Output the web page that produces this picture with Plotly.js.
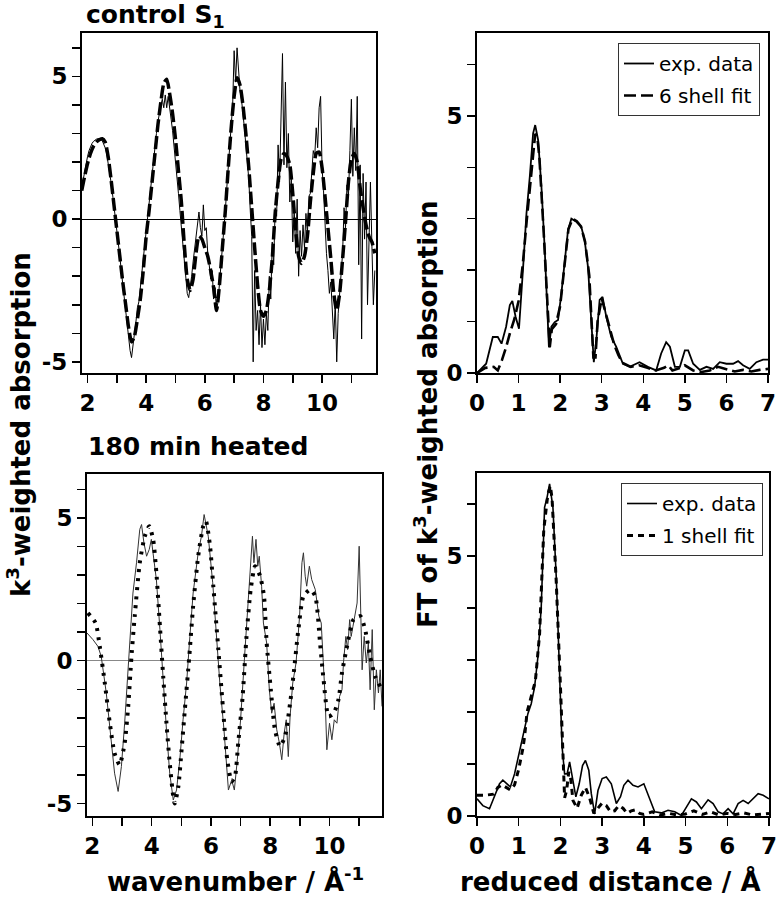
<!DOCTYPE html>
<html>
<head>
<meta charset="utf-8">
<script src="https://cdn.plot.ly/plotly-3.0.1.min.js"></script>
<style>html,body{margin:0;padding:0;background:#fff}#chart{width:780px;height:900px}</style>
</head>
<body>
<div id="chart"></div>
<script>
// ---------- top-left: control S1, k-space ----------
const kStartFine = 1.8, kStepFine = 0.05;   // exp data grid
const kStartFit = 1.8, kStepFit = 0.1;      // fit grid
const ctrlExp = [
  1.1,1.4,1.7,2.0,2.2,2.4,2.55,2.65,2.72,2.78,2.8,2.82,2.82,2.8,2.75,2.65,2.5,2.3,2.0,1.65,
  1.3,0.9,0.5,0.1,-0.35,-0.8,-1.3,-1.8,-2.3,-2.8,-3.3,-3.8,-4.2,-4.6,-4.85,-4.5,-4.0,-3.6,-3.1,-2.9,
  -2.5,-1.9,-1.4,-0.9,-0.3,0.1,0.6,1.1,1.6,2.1,2.6,3.0,3.4,3.8,4.0,4.2,3.9,4.35,3.9,4.3,
  3.8,3.5,3.1,2.6,2.1,1.5,0.9,0.3,-0.3,-0.9,-1.5,-2.1,-2.6,-2.75,-2.4,-2.0,-1.5,-1.0,-0.6,-0.2,
  0.25,-0.3,-0.6,0.5,-0.4,-0.3,-1.2,-1.6,-2.1,-1.8,-2.8,-2.4,-3.2,-2.9,-2.3,-1.6,-1.0,-0.3,0.3,1.1,
  1.9,2.6,3.3,4.0,5.9,4.8,6.0,5.0,4.5,4.2,3.8,3.2,2.6,1.9,1.4,0.3,-0.6,-5.0,-1.8,-3.9,
  -3.2,-4.4,-3.0,-4.5,-3.5,-4.4,-3.3,-3.9,-2.0,-2.8,-0.8,-1.6,0.4,0.1,2.6,1.3,4.1,5.8,1.9,4.8,
  1.8,3.0,0.6,1.4,-0.8,0.3,-1.2,0.7,-2.0,-0.4,-1.3,-0.2,-1.0,0.2,-0.5,0.8,0.9,1.9,2.4,2.2,
  3.2,2.5,3.9,4.3,1.8,1.0,-0.2,-1.2,-1.8,-2.6,-2.2,-3.1,-4.2,-2.9,-5.0,-3.3,-2.6,-1.6,-1.2,0.4,
  -0.3,1.2,0.8,2.4,4.2,1.5,3.2,1.7,4.3,-1.6,1.9,-4.2,1.6,-0.7,1.3,-3.0,-0.2,1.3,-0.9,-3.0,
  -1.8
];
const ctrlFit = [
  1.0,1.5,1.95,2.3,2.55,2.7,2.78,2.82,2.7,2.2,
  1.4,0.5,-0.4,-1.3,-2.2,-3.0,-3.8,-4.3,-4.1,-3.5,
  -2.8,-1.8,-0.6,0.3,1.3,2.3,3.3,4.1,4.75,4.9,
  4.4,3.7,2.8,1.7,0.6,-0.9,-2.1,-2.5,-2.1,-1.2,
  -0.6,-0.7,-1.0,-1.3,-1.8,-2.4,-3.2,-2.3,-1.0,0.3,
  1.8,3.2,4.3,4.95,4.7,4.0,3.0,1.8,0.4,-1.0,
  -2.3,-3.2,-3.4,-3.2,-2.5,-1.4,0.2,1.3,2.1,2.3,
  2.2,1.9,0.9,-0.4,-1.3,-1.55,-1.3,-0.6,0.6,1.6,
  2.3,2.35,1.8,0.8,-0.3,-1.4,-2.6,-3.2,-2.6,-1.4,
  -0.1,1.3,2.1,2.3,2.0,1.1,0.4,-0.2,-0.6,-0.8,
  -1.2
];

// ---------- top-right: control S1, FT ----------
const ftCtrlExpR = [0,0.22,0.38,0.5,0.59,0.7,0.79,0.85,0.93,1.01,1.11,1.19,1.27,1.35,1.4,1.47,1.55,1.63,1.73,1.79,1.87,1.95,2.03,2.11,2.19,2.27,2.39,2.51,2.59,2.67,2.75,2.81,2.87,2.95,3.02,3.11,3.23,3.35,3.51,3.67,3.91,4.11,4.31,4.43,4.55,4.64,4.76,4.88,5.0,5.08,5.2,5.36,5.52,5.68,5.84,6.0,6.16,6.28,6.4,6.56,6.72,6.88,7.0];
const ftCtrlExp = [0,0.18,0.7,0.7,0.57,0.9,1.32,1.4,1.09,0.86,2.06,3.1,3.82,4.66,4.82,4.53,3.62,2.39,0.5,0.9,0.99,1.03,1.55,2.19,2.78,3.0,2.94,2.84,2.58,2.06,1.03,0.21,0.64,1.42,1.48,1.09,0.7,0.51,0.18,0.12,0.21,0.12,0.05,0.38,0.6,0.51,0.12,0.12,0.44,0.44,0.18,0.06,0.12,0.08,0.21,0.18,0.18,0.23,0.15,0.08,0.21,0.26,0.26];
const ftCtrlFitR = [0,0.2,0.4,0.5,0.6,0.7,0.8,0.9,1.0,1.1,1.2,1.3,1.4,1.45,1.5,1.6,1.7,1.75,1.8,1.9,2.0,2.1,2.2,2.3,2.4,2.5,2.6,2.7,2.8,2.85,2.9,3.0,3.1,3.2,3.3,3.4,3.5,3.7,3.9,4.1,4.3,4.5,4.6,4.7,4.9,5.0,5.2,5.4,5.6,5.8,6.0,6.2,6.4,6.6,6.8,7.0];
const ftCtrlFit = [0,0.1,0.12,0.05,0.25,0.5,0.8,1.05,1.4,2.1,3.0,3.9,4.65,4.6,4.2,2.8,1.2,0.5,0.85,0.95,1.3,2.1,2.8,3.0,2.95,2.85,2.55,1.9,0.3,0.3,1.0,1.45,1.15,0.8,0.55,0.35,0.2,0.12,0.15,0.1,0.05,0.1,0.15,0.05,0.1,0.15,0.05,0.02,0.05,0.12,0.08,0.03,0.06,0.03,0.06,0.08];

// ---------- bottom-left: 180 min heated, k-space ----------
const heatExpK = [1.82,2.02,2.19,2.3,2.47,2.64,2.75,2.87,2.98,3.09,3.26,3.37,3.49,3.6,3.66,3.74,3.83,3.92,3.99,4.07,4.16,4.28,4.39,4.5,4.61,4.73,4.84,4.95,5.06,5.18,5.29,5.4,5.57,5.68,5.77,5.91,6.06,6.19,6.3,6.44,6.59,6.7,6.79,6.89,7.0,7.15,7.26,7.34,7.4,7.45,7.52,7.58,7.63,7.71,7.77,7.88,7.97,8.05,8.13,8.22,8.31,8.39,8.47,8.54,8.61,8.67,8.76,8.87,8.99,9.07,9.12,9.18,9.23,9.32,9.4,9.52,9.64,9.72,9.79,9.85,9.91,10.0,10.08,10.16,10.25,10.34,10.42,10.47,10.55,10.61,10.68,10.73,10.79,10.85,10.93,11.0,11.06,11.1,11.17,11.24,11.31,11.37,11.44,11.51,11.58,11.65,11.71,11.77];
const heatExp = [0.97,0.74,0.5,0.15,-1.13,-2.77,-3.94,-4.58,-3.71,-2.19,0.39,2.37,3.43,4.6,4.77,4.13,3.66,3.9,4.25,3.54,2.84,1.09,-0.78,-2.42,-3.94,-4.88,-4.53,-3.47,-2.07,-0.78,0.85,2.37,3.78,4.36,5.12,4.36,2.73,0.85,-0.78,-2.42,-4.53,-4.18,-4.53,-3.47,-2.07,0.39,2.26,3.43,4.36,3.43,4.25,3.31,3.66,2.61,1.32,0.62,-1.02,-1.84,-1.49,-2.42,-2.89,-3.47,-2.54,-2.07,-3.36,-1.95,-0.78,-0.08,1.56,3.43,3.78,2.96,2.61,3.31,2.84,2.49,1.56,1.32,0.15,-1.25,-3.12,-2.19,-2.77,-2.07,-2.19,-1.25,-1.02,-0.08,0.85,0.39,1.44,0.85,1.2,1.56,2.02,4.01,1.32,-0.32,0.85,-0.08,0.62,-1.02,1.09,-1.72,-0.32,-1.13,-0.32,-1.6];
const heatFitK = [1.85,2.11,2.25,2.42,2.59,2.75,2.92,3.09,3.21,3.32,3.43,3.6,3.77,3.92,4.05,4.16,4.28,4.39,4.5,4.61,4.73,4.78,4.9,5.01,5.12,5.27,5.4,5.57,5.74,5.83,5.97,6.08,6.25,6.42,6.55,6.7,6.81,6.92,7.07,7.2,7.34,7.49,7.66,7.79,7.88,8.02,8.16,8.33,8.5,8.67,8.78,8.95,9.12,9.35,9.52,9.68,9.8,9.97,10.14,10.3,10.42,10.59,10.81,11.04,11.2,11.37,11.54,11.71];
const heatFit = [1.67,1.32,0.5,-0.78,-2.19,-3.24,-3.65,-2.89,-1.6,0.15,1.56,3.43,4.36,4.71,4.25,3.08,1.2,-0.55,-2.19,-3.59,-4.76,-5.0,-4.41,-3.12,-1.72,0.15,1.91,3.66,4.71,4.89,4.01,2.61,0.39,-1.84,-3.47,-4.23,-4.06,-2.89,-1.25,0.85,2.49,3.31,2.96,2.26,0.62,-1.02,-2.42,-3.0,-2.65,-1.49,-0.55,1.09,2.26,2.49,2.26,0.62,-0.67,-1.95,-1.84,-1.37,-0.43,0.5,1.44,1.56,1.09,0.15,-0.55,-0.9];

// ---------- bottom-right: 180 min heated, FT ----------
const ftHeatExpR = [0,0.14,0.3,0.42,0.54,0.62,0.72,0.8,0.9,1.02,1.14,1.22,1.3,1.38,1.46,1.54,1.62,1.68,1.74,1.82,1.9,1.98,2.04,2.1,2.16,2.22,2.29,2.37,2.45,2.53,2.6,2.68,2.74,2.82,2.9,3.0,3.1,3.22,3.34,3.44,3.52,3.62,3.74,3.86,4.0,4.12,4.26,4.42,4.58,4.74,4.9,5.02,5.14,5.26,5.38,5.54,5.66,5.78,5.9,6.02,6.14,6.26,6.38,6.5,6.62,6.74,6.86,7.0];
const ftHeatExp = [0.33,0.2,0.14,0.37,0.62,0.69,0.62,0.56,0.81,1.26,1.71,1.97,2.16,2.48,3.06,4.02,5.94,6.13,6.39,5.94,4.6,2.8,1.33,0.81,0.81,1.04,0.75,0.37,0.62,0.97,1.07,0.88,0.43,0.04,0.49,0.72,0.75,0.62,0.24,0.37,0.59,0.69,0.59,0.56,0.62,0.37,0.08,0.06,0.11,0.08,0.01,0.17,0.33,0.27,0.14,0.31,0.24,0.08,0.04,0.14,0.04,0.24,0.3,0.24,0.33,0.43,0.4,0.33];
const ftHeatFitR = [0,0.2,0.4,0.5,0.6,0.7,0.8,0.9,1.0,1.1,1.14,1.2,1.3,1.4,1.5,1.6,1.7,1.76,1.8,1.9,2.0,2.05,2.1,2.15,2.2,2.25,2.3,2.4,2.5,2.6,2.7,2.8,2.9,3.0,3.1,3.2,3.3,3.4,3.5,3.6,3.7,3.8,3.9,4.0,4.2,4.4,4.6,4.8,5.0,5.2,5.4,5.6,5.8,6.0,6.2,6.4,6.6,6.8,7.0];
const ftHeatFit = [0.4,0.4,0.42,0.55,0.6,0.55,0.5,0.6,0.9,1.3,1.52,2.0,2.3,2.6,3.5,5.5,6.2,6.35,6.1,4.5,2.5,1.2,0.35,0.5,0.85,0.7,0.3,0.15,0.4,0.55,0.35,0.05,0.15,0.25,0.2,0.08,0.1,0.2,0.15,0.05,0.1,0.12,0.05,0.03,0.08,0.02,0.05,0.02,0.04,0.1,0.03,0.08,0.02,0.05,0.03,0.06,0.02,0.04,0.05];

// tick labels (labelled major ticks; unlabelled minor ticks every unit)
const kTickVals = [2,4,6,8,10];
const kTickText = ['2','4','6','8','10'];
const chiTickVals = [-5,0,5];
const chiTickText = ['-5','0','5'];
const ftTickVals = [0,5];
const ftTickText = ['0','5'];
const rTickVals = [0,1,2,3,4,5,6,7];
const rTickText = ['0','1','2','3','4','5','6','7'];

// text
const titleTop = 'control S<sub>1</sub>';
const titleBottom = '180 min heated';
const yTitleLeft = 'k<sup>3</sup>-weighted absorption';
const yTitleRight = 'FT of k<sup>3</sup>-weighted absorption';
const xTitleLeft = 'wavenumber / Å<sup>-1</sup>';
const xTitleRight = 'reduced distance / Å';
const legExp = 'exp. data';
const legFit6 = '6 shell fit';
const legFit1 = '1 shell fit';

// ---------- build ----------
const gridFrom = (start, step, n) => Array.from({length: n}, (_, i) => +(start + i * step).toFixed(2));
const kFine = gridFrom(kStartFine, kStepFine, ctrlExp.length);
const kFit = gridFrom(kStartFit, kStepFit, ctrlFit.length);

const FONT = 'DejaVu Sans, Verdana, sans-serif';
const tickFont = {family: FONT, size: 23, color: '#000', weight: 'bold'};

const traces = [
  {x: kFine, y: ctrlExp, xaxis: 'x', yaxis: 'y', mode: 'lines', line: {color: '#000', width: 1}, showlegend: false},
  {x: kFit, y: ctrlFit, xaxis: 'x', yaxis: 'y', mode: 'lines', line: {color: '#000', width: 3.5, dash: '13px,4px', shape: 'spline', smoothing: 0.6}, showlegend: false},
  {x: ftCtrlExpR, y: ftCtrlExp, xaxis: 'x2', yaxis: 'y2', mode: 'lines', name: legExp, legend: 'legend', legendgroup: 'a', line: {color: '#000', width: 1.8}},
  {x: ftCtrlFitR, y: ftCtrlFit, xaxis: 'x2', yaxis: 'y2', mode: 'lines', name: legFit6, legend: 'legend', legendgroup: 'b', line: {color: '#000', width: 2.6, dash: '12px,5px'}},
  {x: heatExpK, y: heatExp, xaxis: 'x3', yaxis: 'y3', mode: 'lines', line: {color: '#333', width: 1}, showlegend: false},
  {x: heatFitK, y: heatFit, xaxis: 'x3', yaxis: 'y3', mode: 'lines', line: {color: '#000', width: 4, dash: '3px,6px', shape: 'spline', smoothing: 0.6}, showlegend: false},
  {x: ftHeatExpR, y: ftHeatExp, xaxis: 'x4', yaxis: 'y4', mode: 'lines', name: legExp, legend: 'legend2', legendgroup: 'c', line: {color: '#000', width: 1.6}},
  {x: ftHeatFitR, y: ftHeatFit, xaxis: 'x4', yaxis: 'y4', mode: 'lines', name: legFit1, legend: 'legend2', legendgroup: 'd', line: {color: '#000', width: 3, dash: '6px,5px'}}
];

const W = 780, H = 900;
const px = v => v / W, py = v => 1 - v / H;
const minorTicks = {dtick: 1, tick0: 0, ticks: 'outside', ticklen: 8, tickwidth: 1.5, tickcolor: '#000', showgrid: false};
const baseAxis = {showline: true, mirror: true, linecolor: '#000', linewidth: 2, ticks: 'outside', ticklen: 8, tickwidth: 1.5, tickcolor: '#000', showgrid: false, zeroline: false, tickfont: tickFont, tickmode: 'array', fixedrange: true, minor: minorTicks};

const legendBase = {bgcolor: '#fff', bordercolor: '#333', borderwidth: 1, font: {family: FONT, size: 20, color: '#000'}, xanchor: 'right', yanchor: 'top', tracegroupgap: 3, itemwidth: 30, traceorder: 'grouped'};

const annFont = {family: FONT, size: 26, color: '#000', weight: 'bold'};

const layout = {
  width: W, height: H,
  margin: {l: 0, r: 0, t: 0, b: 0},
  paper_bgcolor: '#fff', plot_bgcolor: '#fff',
  showlegend: true,
  xaxis: Object.assign({}, baseAxis, {domain: [px(82), px(376)], range: [1.81, 11.84], anchor: 'y', tickvals: kTickVals, ticktext: kTickText}),
  yaxis: Object.assign({}, baseAxis, {domain: [py(373), py(33)], range: [-5.39, 6.52], anchor: 'x', tickvals: chiTickVals, ticktext: chiTickText, zeroline: true, zerolinecolor: '#000', zerolinewidth: 1}),
  xaxis2: Object.assign({}, baseAxis, {domain: [px(477), px(768)], range: [0, 7], anchor: 'y2', tickvals: rTickVals, ticktext: rTickText}),
  yaxis2: Object.assign({}, baseAxis, {domain: [py(373), py(33)], range: [0, 6.61], anchor: 'x2', tickvals: ftTickVals, ticktext: ftTickText}),
  xaxis3: Object.assign({}, baseAxis, {domain: [px(87), px(382)], range: [1.82, 11.77], anchor: 'y3', tickvals: kTickVals, ticktext: kTickText}),
  yaxis3: Object.assign({}, baseAxis, {domain: [py(816), py(474)], range: [-5.44, 6.54], anchor: 'x3', tickvals: chiTickVals, ticktext: chiTickText, zeroline: true, zerolinecolor: '#888', zerolinewidth: 1.2}),
  xaxis4: Object.assign({}, baseAxis, {domain: [px(477), px(769)], range: [0, 7], anchor: 'y4', tickvals: rTickVals, ticktext: rTickText}),
  yaxis4: Object.assign({}, baseAxis, {domain: [py(816), py(473)], range: [0, 6.6], anchor: 'x4', tickvals: ftTickVals, ticktext: ftTickText}),
  legend: Object.assign({}, legendBase, {x: px(760), y: py(43)}),
  legend2: Object.assign({}, legendBase, {x: px(763), y: py(483)}),
  annotations: [
    {text: titleTop, xref: 'paper', yref: 'paper', x: px(84), y: py(16), xanchor: 'left', yanchor: 'middle', showarrow: false, font: {family: FONT, size: 25, color: '#000', weight: 'bold'}},
    {text: titleBottom, xref: 'paper', yref: 'paper', x: px(86), y: py(447), xanchor: 'left', yanchor: 'middle', showarrow: false, font: {family: FONT, size: 25, color: '#000', weight: 'bold'}},
    {text: yTitleLeft, xref: 'paper', yref: 'paper', x: px(19), y: py(425), xanchor: 'center', yanchor: 'middle', textangle: -90, showarrow: false, font: annFont},
    {text: yTitleRight, xref: 'paper', yref: 'paper', x: px(426), y: py(414), xanchor: 'center', yanchor: 'middle', textangle: -90, showarrow: false, font: annFont},
    {text: xTitleLeft, xref: 'paper', yref: 'paper', x: px(235), y: py(880), xanchor: 'center', yanchor: 'middle', showarrow: false, font: annFont},
    {text: xTitleRight, xref: 'paper', yref: 'paper', x: px(610), y: py(881), xanchor: 'center', yanchor: 'middle', showarrow: false, font: annFont}
  ]
};

Plotly.newPlot('chart', traces, layout, {staticPlot: true, displayModeBar: false});
</script>
</body>
</html>
